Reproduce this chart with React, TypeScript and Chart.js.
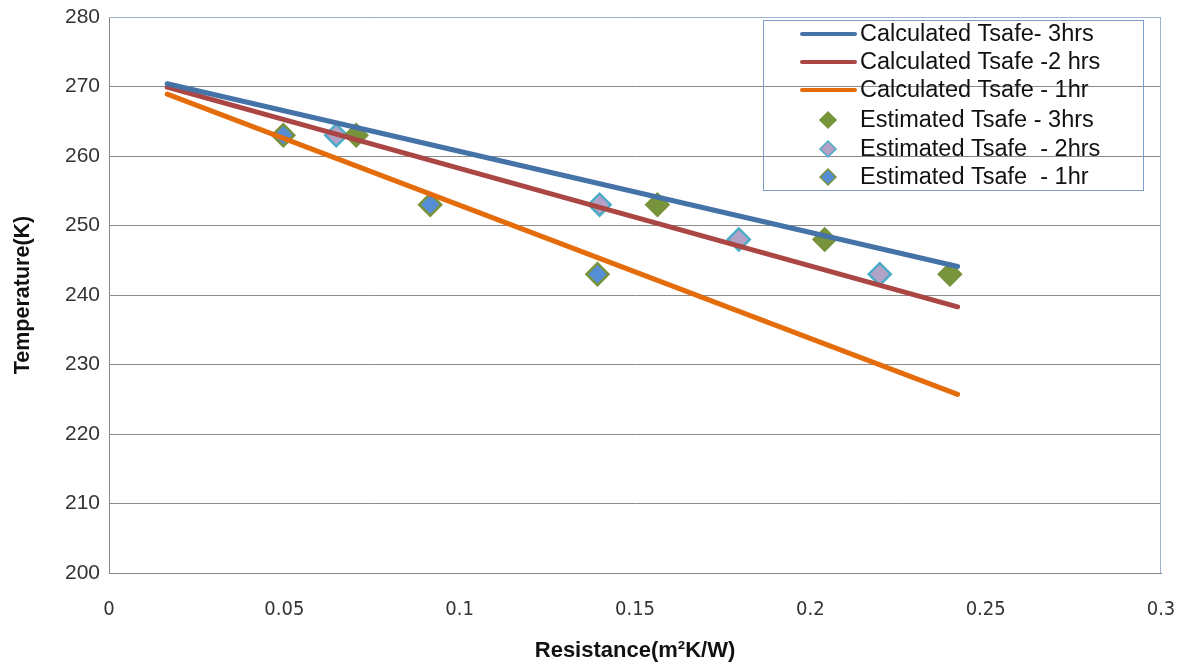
import React, { useEffect, useRef } from 'react';
import { Chart, registerables } from 'chart.js';

Chart.register(...registerables);

// Calculated lines (start / end)
const calcX = [0.0166, 0.242];
const calc3hrs = [270.4, 244.1];
const calc2hrs = [269.9, 238.3];
const calc1hr = [268.9, 225.7];

// Estimated points
const est3hrsX = [0.0705, 0.1564, 0.2041, 0.2398];
const est3hrsY = [263, 253, 248, 243];
const est2hrsX = [0.0648, 0.1399, 0.1796, 0.2198];
const est2hrsY = [263, 253, 248, 243];
const est1hrX = [0.0497, 0.0916, 0.1393];
const est1hrY = [263, 253, 243];

const xTicks = [0, 0.05, 0.1, 0.15, 0.2, 0.25, 0.3];
const yTicks = [200, 210, 220, 230, 240, 250, 260, 270, 280];

const seriesNames = [
  'Calculated Tsafe- 3hrs',
  'Calculated Tsafe -2 hrs',
  'Calculated Tsafe - 1hr',
  'Estimated Tsafe - 3hrs',
  'Estimated Tsafe  - 2hrs',
  'Estimated Tsafe  - 1hr',
];

const FONT = "'Liberation Sans', Arial, sans-serif";

const zip = (xs: number[], ys: number[]) => xs.map((x, i) => ({ x, y: ys[i] }));

const borderPlugin = {
  id: 'plotBorder',
  beforeDatasetsDraw(chart: any) {
    const { ctx, chartArea: a } = chart;
    ctx.save();
    ctx.strokeStyle = '#9FB3D1';
    ctx.lineWidth = 1;
    ctx.beginPath();
    ctx.moveTo(a.left, a.top + 0.5);
    ctx.lineTo(a.right - 0.5, a.top + 0.5);
    ctx.lineTo(a.right - 0.5, a.bottom);
    ctx.stroke();
    ctx.restore();
  },
};

const legendPlugin = {
  id: 'customLegend',
  afterDraw(chart: any) {
    const { ctx } = chart;
    const left = 763, top = 20, right = 1143, bottom = 190;
    ctx.save();
    ctx.strokeStyle = '#7C9CCB';
    ctx.lineWidth = 1;
    ctx.strokeRect(left + 0.5, top + 0.5, right - left, bottom - top);
    const rows = [34, 62, 90, 120, 149, 177];
    ctx.font = `23.5px ${FONT}`;
    ctx.textBaseline = 'middle';
    chart.data.datasets.forEach((ds: any, i: number) => {
      const y = rows[i];
      if (ds.showLine) {
        ctx.strokeStyle = ds.borderColor;
        ctx.lineWidth = 4;
        ctx.lineCap = 'round';
        ctx.beginPath();
        ctx.moveTo(802, y);
        ctx.lineTo(855, y);
        ctx.stroke();
      } else {
        ctx.fillStyle = ds.pointBackgroundColor;
        ctx.strokeStyle = ds.pointBorderColor;
        ctx.lineWidth = 1.5;
        const cx = 828, r = 8;
        ctx.beginPath();
        ctx.moveTo(cx - r, y);
        ctx.lineTo(cx, y - r);
        ctx.lineTo(cx + r, y);
        ctx.lineTo(cx, y + r);
        ctx.closePath();
        ctx.fill();
        ctx.stroke();
      }
      ctx.fillStyle = '#111';
      ctx.fillText(ds.label, 860, y + 1);
    });
    ctx.restore();
  },
};

export default function App() {
  const ref = useRef<HTMLCanvasElement>(null);
  useEffect(() => {
    document.body.style.margin = '0';
    const lineDs = (label: string, ys: number[], color: string) => ({
      label,
      data: zip(calcX, ys),
      showLine: true,
      borderColor: color,
      backgroundColor: color,
      borderWidth: 5,
      borderCapStyle: 'round',
      pointRadius: 0,
      pointHoverRadius: 0,
    });
    const ptDs = (label: string, xs: number[], ys: number[], fill: string, border: string) => ({
      label,
      data: zip(xs, ys),
      showLine: false,
      pointStyle: 'rectRot',
      pointRadius: 11,
      pointBackgroundColor: fill,
      pointBorderColor: border,
      pointBorderWidth: 2.5,
      backgroundColor: fill,
      borderColor: border,
    });
    const chart = new Chart(ref.current!, {
      type: 'scatter',
      data: {
        datasets: [
          lineDs(seriesNames[0], calc3hrs, '#4572A7'),
          lineDs(seriesNames[1], calc2hrs, '#AA4643'),
          lineDs(seriesNames[2], calc1hr, '#E46C0A'),
          ptDs(seriesNames[3], est3hrsX, est3hrsY, '#77933C', '#77933C'),
          ptDs(seriesNames[4], est2hrsX, est2hrsY, '#B3A2C7', '#4BACC6'),
          ptDs(seriesNames[5], est1hrX, est1hrY, '#558ED5', '#77933C'),
        ] as any,
      },
      options: {
        animation: false,
        responsive: false,
        layout: { padding: { top: 17, right: 24, left: 0, bottom: 0 } },
        plugins: { legend: { display: false }, tooltip: { enabled: false } },
        scales: {
          x: {
            type: 'linear',
            min: 0,
            max: 0.3,
            afterBuildTicks: (axis: any) => {
              axis.ticks = xTicks.map((v) => ({ value: v }));
            },
            afterFit: (axis: any) => {
              axis.height = 91;
              axis.paddingLeft = 0;
              axis.paddingRight = 0;
            },
            grid: { display: false, drawTicks: false },
            border: { display: true, color: '#868686', width: 1 },
            ticks: {
              padding: 25,
              color: '#333',
              font: { family: "'DejaVu Sans Condensed', 'Liberation Sans', sans-serif", size: 20 },
              maxRotation: 0,
              callback: (v: any) => String(v),
            },
            title: {
              display: true,
              text: 'Resistance(m²K/W)',
              color: '#111',
              font: { family: FONT, size: 22, weight: 'bold' },
              padding: { top: 6, bottom: 0 },
            },
          },
          y: {
            type: 'linear',
            min: 200,
            max: 280,
            afterBuildTicks: (axis: any) => {
              axis.ticks = yTicks.map((v) => ({ value: v }));
            },
            afterFit: (axis: any) => {
              axis.width = 109;
              axis.paddingTop = 0;
              axis.paddingBottom = 0;
            },
            grid: { color: '#8C8C8C', lineWidth: 1, drawTicks: false },
            border: { display: true, color: '#868686', width: 1 },
            ticks: {
              padding: 9,
              color: '#333',
              font: { family: FONT, size: 21 },
            },
            title: {
              display: true,
              text: 'Temperature(K)',
              color: '#111',
              font: { family: FONT, size: 21.5, weight: 'bold' },
              padding: { top: 10, bottom: 0 },
            },
          },
        },
      },
      plugins: [borderPlugin, legendPlugin],
    } as any);
    return () => chart.destroy();
  }, []);
  return (
    <div style={{ position: 'absolute', left: 0, top: 0, width: 1185, height: 664, background: '#fff' }}>
      <canvas ref={ref} width={1185} height={664} style={{ display: 'block' }} />
    </div>
  );
}
